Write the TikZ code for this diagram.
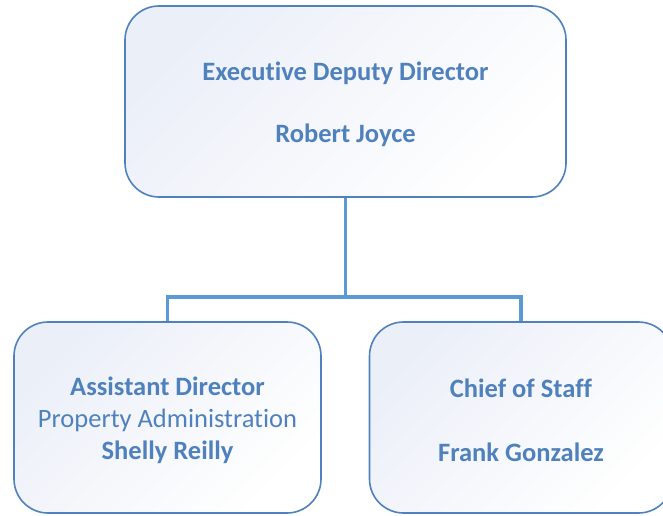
\documentclass[tikz,border=0pt]{standalone}
\usepackage{fontspec}
\setmainfont{Carlito}[Ligatures=NoCommon]
\definecolor{textblue}{HTML}{4F81BD}
\definecolor{lineblue}{HTML}{5B9BD5}
\definecolor{paleblue}{HTML}{EBEFF8}
\newcommand*{\topstrut}{\rule{0pt}{24pt}}

\begin{document}
\begin{tikzpicture}
[
	x=1pt,y=1pt,
	orgbox/.style={draw=textblue,line width=1.6pt,rounded corners=34pt,
	  top color=paleblue,bottom color=white,shading angle=45,
	  minimum height=191pt,align=center,text=textblue,
	  font=\fontsize{26.5}{32}\selectfont},
	link/.style={draw=lineblue,line width=3.2pt}
]

	% page
	\useasboundingbox (0,0) rectangle (663,515);
	\clip (0,0) rectangle (663,515);

	% connectors
	\coordinate (split) at (345.5,218);
	\node[orgbox,minimum width=441pt] at (345.5,413.5) (exec)
	  {\topstrut\textbf{Executive Deputy Director}\\[30pt]\textbf{Robert Joyce}};
	\draw[link] (exec.south) -- (split) -| (167.5,193);
	\draw[link] (split) -| (521,193);

	% boxes
	\node[orgbox,minimum width=307pt] at (167.5,97.5) (assist)
	  {\topstrut\textbf{Assistant Director}\\Property Administration\\\textbf{Shelly Reilly}};
	\node[orgbox,minimum width=303pt] at (521,97.5) (chief)
	  {\topstrut\textbf{Chief of Staff}\\[32pt]\textbf{Frank Gonzalez}};

\end{tikzpicture}
\end{document}
